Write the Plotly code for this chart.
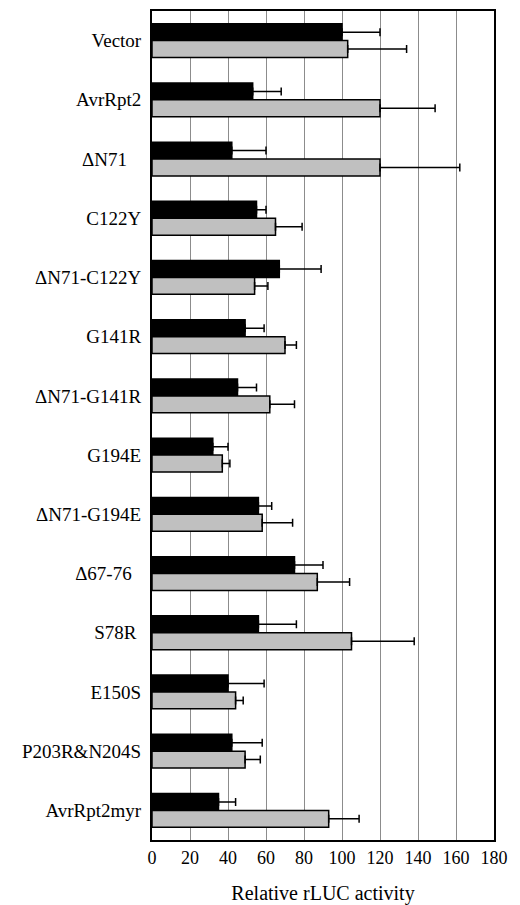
import plotly.graph_objects as go

categories = ["Vector", "AvrRpt2", "ΔN71", "C122Y", "ΔN71-C122Y", "G141R", "ΔN71-G141R",
              "G194E", "ΔN71-G194E", "Δ67-76", "S78R", "E150S", "P203R&N204S", "AvrRpt2myr"]
tick_labels = ["Vector", "AvrRpt2", "ΔN71\u00a0\u00a0\u00a0", "C122Y", "ΔN71-C122Y", "G141R", "ΔN71-G141R",
               "G194E", "ΔN71-G194E", "Δ67-76\u00a0\u00a0", "S78R\u00a0", "E150S", "P203R&N204S", "AvrRpt2myr"]

black_vals = [100, 53, 42, 55, 67, 49, 45, 32, 56, 75, 56, 40, 42, 35]
black_err = [20, 15, 18, 5, 22, 10, 10, 8, 7, 15, 20, 19, 16, 9]
grey_vals = [103, 120, 120, 65, 54, 70, 62, 37, 58, 87, 105, 44, 49, 93]
grey_err = [31, 29, 42, 14, 7, 6, 13, 4, 16, 17, 33, 4, 8, 16]

x_ticks = list(range(0, 181, 20))

font_family = "Liberation Serif, Times New Roman, serif"

fig = go.Figure()
for vals, errs, color in [(black_vals, black_err, "#000000"), (grey_vals, grey_err, "#c0c0c0")]:
    fig.add_trace(go.Bar(
        y=categories, x=vals, orientation="h",
        marker=dict(color=color, line=dict(color="#000000", width=1.5)),
        error_x=dict(type="data", symmetric=False, array=errs, arrayminus=[0] * len(errs),
                     color="#000000", thickness=1.5, width=4),
        showlegend=False,
    ))

fig.update_layout(
    width=512, height=897,
    margin=dict(l=144, r=26, t=1, b=65),
    paper_bgcolor="white", plot_bgcolor="white",
    barmode="group", bargap=0.43, bargroupgap=0,
    font=dict(family=font_family, size=18, color="#000000"),
    xaxis=dict(
        range=[0, 180], tickvals=x_ticks, ticktext=[str(t) for t in x_ticks],
        showgrid=True, gridcolor="#8c8c8c", gridwidth=1,
        showline=True, linecolor="#000000", linewidth=2, mirror=True,
        ticks="", zeroline=False,
        title=dict(text="Relative rLUC activity", font=dict(size=20), standoff=20),
        tickfont=dict(size=18),
    ),
    yaxis=dict(
        categoryorder="array", categoryarray=categories,
        tickvals=categories, ticktext=tick_labels,
        autorange="reversed",
        showline=True, linecolor="#000000", linewidth=2, mirror=True,
        ticks="", showgrid=False, ticklabelstandoff=5,
        tickfont=dict(size=19),
    ),
)

fig.write_html("out.html")
